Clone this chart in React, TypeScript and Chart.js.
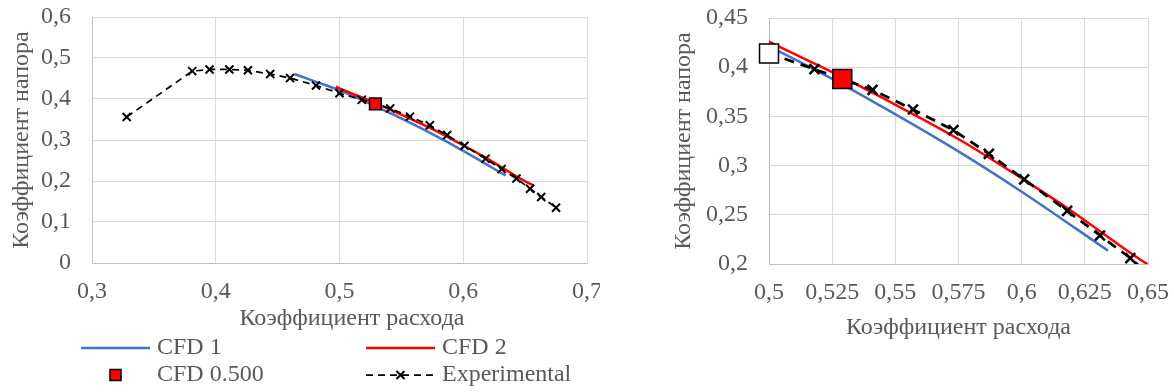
import React, { useEffect, useRef } from 'react';
import { Chart, registerables } from 'chart.js';

Chart.register(...registerables);

// ---------- data ----------
const EXP_X = [0.328, 0.381, 0.395, 0.411, 0.426, 0.444, 0.46, 0.481, 0.5, 0.518, 0.541, 0.557, 0.573, 0.587, 0.601, 0.618, 0.631, 0.643, 0.654, 0.663, 0.675];
const EXP_Y = [0.356, 0.468, 0.472, 0.472, 0.47, 0.461, 0.451, 0.433, 0.414, 0.398, 0.377, 0.357, 0.336, 0.312, 0.286, 0.254, 0.229, 0.206, 0.181, 0.161, 0.135];

const CFD1_X = [0.4636, 0.48, 0.5, 0.52, 0.544, 0.574, 0.6, 0.6342];
const CFD1_Y = [0.461, 0.443, 0.421, 0.395, 0.361, 0.316, 0.2735, 0.2135];

const CFD2_X = [0.497, 0.5, 0.529, 0.544, 0.5756, 0.6, 0.618, 0.649, 0.657];
const CFD2_Y = [0.43, 0.426, 0.39, 0.37, 0.326, 0.287, 0.257, 0.201, 0.189];

const CFD500_X = [0.529];
const CFD500_Y = [0.388];

const REF_X = [0.5];
const REF_Y = [0.414];

const LEFT_X_TICKS = [0.3, 0.4, 0.5, 0.6, 0.7];
const LEFT_Y_TICKS = [0, 0.1, 0.2, 0.3, 0.4, 0.5, 0.6];
const RIGHT_X_TICKS = [0.5, 0.525, 0.55, 0.575, 0.6, 0.625, 0.65];
const RIGHT_Y_TICKS = [0.2, 0.25, 0.3, 0.35, 0.4, 0.45];

const X_TITLE = 'Коэффициент расхода';
const Y_TITLE = 'Коэффициент напора';
const LEGEND_LABELS = ['CFD 1', 'CFD 2', 'CFD 0.500', 'Experimental'];

// ---------- styles ----------
const FONT = "'Liberation Serif', 'Times New Roman', serif";
const FONT_SIZE = 24;
const TEXT = '#595959';
const BLUE = '#4472C4';
const RED = '#FF0000';

const pts = (xs: number[], ys: number[]) => xs.map((x, i) => ({ x, y: ys[i] }));
const fmt = (v: any) => String(+(+v).toFixed(3)).replace('.', ',');

function buildScales(o: any) {
  const font = { family: FONT, size: FONT_SIZE };
  return {
    x: {
      type: 'linear',
      min: o.xt[0],
      max: o.xt[o.xt.length - 1],
      afterBuildTicks: (s: any) => { s.ticks = o.xt.map((v: number) => ({ value: v })); },
      afterFit: (s: any) => { s.height = o.xh; s.paddingLeft = 0; s.paddingRight = 0; },
      ticks: { callback: fmt, font, color: TEXT, padding: 14.6, maxRotation: 0, minRotation: 0, autoSkip: false },
      grid: { color: '#d9d9d9', drawTicks: false, lineWidth: 1 },
      border: { color: '#bfbfbf', width: 1 },
      title: { display: o.xTitleBuiltin, text: X_TITLE, font, color: TEXT, padding: { top: 0, bottom: o.xtp } },
    },
    y: {
      type: 'linear',
      min: o.yt[0],
      max: o.yt[o.yt.length - 1],
      afterBuildTicks: (s: any) => { s.ticks = o.yt.map((v: number) => ({ value: v })); },
      afterFit: (s: any) => { s.width = o.yw; s.paddingTop = 0; s.paddingBottom = 0; },
      ticks: { callback: fmt, font, color: TEXT, padding: 21, autoSkip: false },
      grid: { color: '#d9d9d9', drawTicks: false, lineWidth: 1 },
      border: { color: '#bfbfbf', width: 1 },
      title: { display: true, text: Y_TITLE, font, color: TEXT, padding: { top: o.ytp, bottom: 0 } },
    },
  };
}

function datasets(big: boolean) {
  const ds: any[] = [
    {
      label: LEGEND_LABELS[0], data: pts(CFD1_X, CFD1_Y), showLine: true, borderColor: BLUE, borderWidth: 2.5,
      pointRadius: 0, cubicInterpolationMode: 'monotone', order: 4,
    },
    {
      label: LEGEND_LABELS[1], data: pts(CFD2_X, CFD2_Y), showLine: true, borderColor: RED, borderWidth: 2.5,
      pointRadius: 0, cubicInterpolationMode: 'monotone', order: 3,
    },
    {
      label: LEGEND_LABELS[3], data: pts(EXP_X, EXP_Y), showLine: true, borderColor: '#000', borderWidth: big ? 2.75 : 1.75,
      borderDash: big ? [10, 7] : [7, 5], pointStyle: 'crossRot', pointRadius: big ? 7 : 5.7,
      pointBorderColor: '#000', pointBorderWidth: big ? 2.5 : 2, order: 2,
    },
    {
      label: LEGEND_LABELS[2], data: pts(CFD500_X, CFD500_Y), showLine: false, pointStyle: 'rect',
      pointRadius: big ? 13.4 : 8.3, pointBackgroundColor: RED, pointBorderColor: '#000', pointBorderWidth: 1.5,
      order: 1, clip: false,
    },
  ];
  if (big) {
    ds.push({
      label: 'ref', data: pts(REF_X, REF_Y), showLine: false, pointStyle: 'rect', pointRadius: 13.4,
      pointBackgroundColor: '#fff', pointBorderColor: '#000', pointBorderWidth: 1.5, order: 0, clip: false,
    });
  }
  return ds;
}

// Left chart: x-axis title (offset like the original) and two-column legend
const legendPlugin = {
  id: 'customLegend',
  afterDraw(chart: any) {
    const ctx = chart.ctx;
    ctx.save();
    ctx.font = `${FONT_SIZE}px ${FONT}`;
    ctx.fillStyle = TEXT;
    ctx.textBaseline = 'middle';
    // x title
    ctx.textAlign = 'center';
    ctx.fillText(X_TITLE, 352, 319);
    ctx.textAlign = 'left';
    const r1 = 348, r2 = 375;
    const c1 = 81, c2 = 366, w = 69, tx1 = 157, tx2 = 442;
    // CFD 1
    ctx.strokeStyle = BLUE; ctx.lineWidth = 2.5;
    ctx.beginPath(); ctx.moveTo(c1, r1); ctx.lineTo(c1 + w, r1); ctx.stroke();
    ctx.fillText(LEGEND_LABELS[0], tx1, r1);
    // CFD 2
    ctx.strokeStyle = RED;
    ctx.beginPath(); ctx.moveTo(c2, r1); ctx.lineTo(c2 + w, r1); ctx.stroke();
    ctx.fillText(LEGEND_LABELS[1], tx2, r1);
    // CFD 0.500
    ctx.fillStyle = RED; ctx.strokeStyle = '#000'; ctx.lineWidth = 1.5;
    ctx.fillRect(c1 + w / 2 - 5.5, r2 - 5.5, 11, 11);
    ctx.strokeRect(c1 + w / 2 - 5.5, r2 - 5.5, 11, 11);
    ctx.fillStyle = TEXT;
    ctx.fillText(LEGEND_LABELS[2], tx1, r2);
    // Experimental
    ctx.strokeStyle = '#000'; ctx.lineWidth = 1.75;
    ctx.setLineDash([7, 5]);
    ctx.beginPath(); ctx.moveTo(c2, r2); ctx.lineTo(c2 + w, r2); ctx.stroke();
    ctx.setLineDash([]);
    const cx = c2 + w / 2, d = 4;
    ctx.lineWidth = 2;
    ctx.beginPath();
    ctx.moveTo(cx - d, r2 - d); ctx.lineTo(cx + d, r2 + d);
    ctx.moveTo(cx + d, r2 - d); ctx.lineTo(cx - d, r2 + d);
    ctx.stroke();
    ctx.fillStyle = TEXT;
    ctx.fillText(LEGEND_LABELS[3], tx2, r2);
    ctx.restore();
  },
};

export default function App() {
  const leftRef = useRef<HTMLCanvasElement>(null);
  const rightRef = useRef<HTMLCanvasElement>(null);

  useEffect(() => {
    const left = new Chart(leftRef.current as HTMLCanvasElement, {
      type: 'scatter',
      data: { datasets: datasets(false) },
      options: {
        animation: false,
        responsive: false,
        layout: { padding: { top: 17, right: 13, bottom: 0, left: 0 } },
        plugins: { legend: { display: false }, tooltip: { enabled: false } },
        scales: buildScales({ xt: LEFT_X_TICKS, yt: LEFT_Y_TICKS, xh: 129, yw: 92, xtp: 59.1, ytp: 7.6, xTitleBuiltin: false }) as any,
      } as any,
      plugins: [legendPlugin],
    } as any);
    const right = new Chart(rightRef.current as HTMLCanvasElement, {
      type: 'scatter',
      data: { datasets: datasets(true) },
      options: {
        animation: false,
        responsive: false,
        layout: { padding: { top: 18, right: 26, bottom: 0, left: 0 } },
        plugins: { legend: { display: false }, tooltip: { enabled: false } },
        scales: buildScales({ xt: RIGHT_X_TICKS, yt: RIGHT_Y_TICKS, xh: 128, yw: 169, xtp: 50.1, ytp: 69.6, xTitleBuiltin: true }) as any,
      } as any,
    } as any);
    return () => { left.destroy(); right.destroy(); };
  }, []);

  return (
    <div style={{ position: 'absolute', left: 0, top: 0, width: 1174, height: 392, background: '#fff' }}>
      <canvas ref={leftRef} width={600} height={392} style={{ position: 'absolute', left: 0, top: 0 }} />
      <canvas ref={rightRef} width={574} height={392} style={{ position: 'absolute', left: 600, top: 0 }} />
    </div>
  );
}
